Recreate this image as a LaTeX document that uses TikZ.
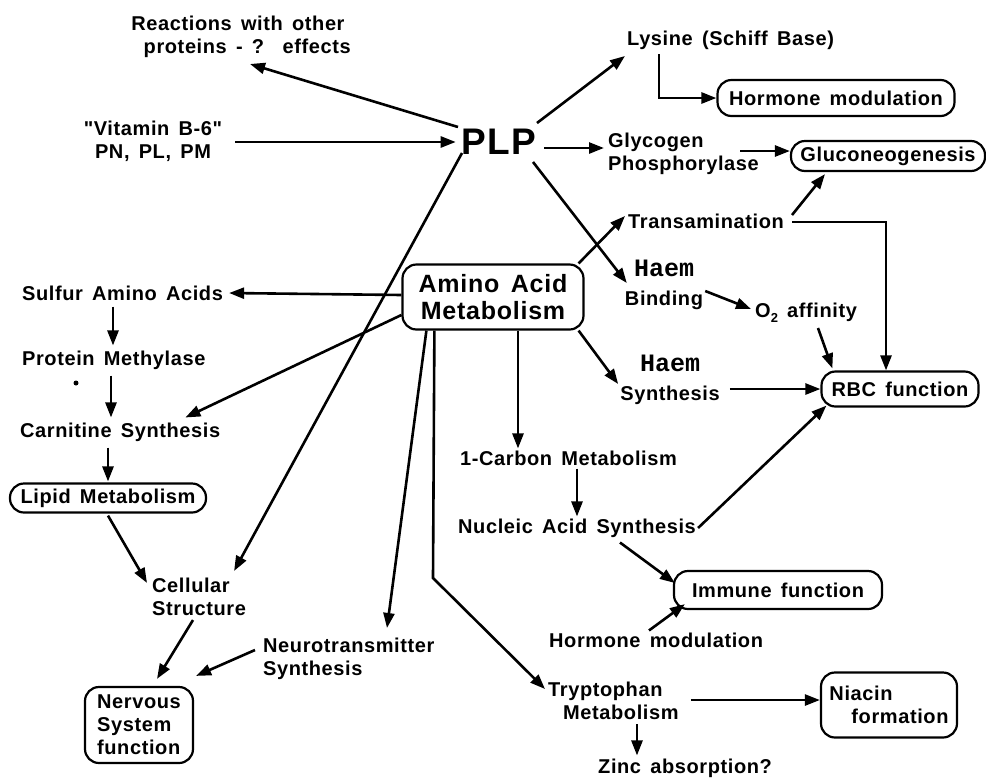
\documentclass[tikz,border=0pt]{standalone}
\usepackage{fontspec}
\usetikzlibrary{arrows.meta,calc}
\newfontfamily\lab{Liberation Sans}[LetterSpace=3,WordSpace=1.5]
\newfontfamily\haemf{Liberation Mono}
\tikzset{
  lbl/.style={font=\lab\bfseries\fontsize{20}{23}\selectfont, inner sep=0pt, align=center},
  lbll/.style={lbl, align=left},
  rbox/.style={lbl, draw, line width=2.2pt, rounded corners=14pt},
  arr/.style={line width=2.6pt, -{Triangle[length=15pt,width=11pt]}},
}
\newcommand{\haemword}{{\haemf\bfseries\fontsize{25}{25}\selectfont Haem}}
\begin{document}
\begin{tikzpicture}[x=1pt,y=-1pt]
\useasboundingbox (0,0) rectangle (986,780);
% nodes
\node[lbl] (react) at (238,37) {Reactions with other\\ \ \ proteins - ?\ \ effects};
\node[lbl] (vit) at (153,141) {"Vitamin B-6"\\PN, PL, PM};
\node[font=\lab\bfseries\fontsize{37}{37}\selectfont, inner sep=0pt] (plp) at (499,142) {PLP};
\node[lbl, anchor=west] (lys) at (627,40) {Lysine (Schiff Base)};
\node[rbox, minimum width=237pt, minimum height=36pt] (hm1) at (836,98) {Hormone modulation};
\node[lbll, anchor=west] (glyc) at (608,154) {Glycogen\\Phosphorylase};
\node[rbox, minimum width=194pt, minimum height=30pt] (gluco) at (888,156) {Gluconeogenesis};
\node[lbl, anchor=west] (trans) at (628,221) {Transamination};
\node[lbl] (haemb) at (664,285) {\haemword\\[6pt]Binding};
\node[lbl, anchor=west] (o2) at (755,313) {O\raisebox{-5pt}{\fontsize{13}{13}\selectfont 2} affinity};
\node[rbox, font=\lab\bfseries\fontsize{25}{27}\selectfont, minimum width=181pt, minimum height=65pt] (aam) at (493,297) {Amino Acid\\Metabolism};
\node[lbl] (haems) at (670,380) {\haemword\\[6pt]Synthesis};
\node[rbox, minimum width=157pt, minimum height=35pt] (rbc) at (900,389) {RBC function};
\node[lbl, anchor=west] (carb) at (460,458) {1-Carbon Metabolism};
\node[lbl, anchor=west] (nuc) at (458,528) {Nucleic Acid Synthesis};
\node[rbox, minimum width=208pt, minimum height=38pt] (imm) at (778,590) {Immune function};
\node[lbl, anchor=west] (hm2) at (549,640) {Hormone modulation};
\node[lbll, anchor=west] (tryp) at (548,701) {Tryptophan\\\hspace*{15pt}Metabolism};
\node[rbox, align=left, minimum width=136pt, minimum height=65pt] (niac) at (889,705) {Niacin\\\hspace*{22pt}formation};
\node[lbl, anchor=west] (zinc) at (598,768) {Zinc absorption?};
\node[lbll, anchor=west] (neuro) at (263,659) {Neurotransmitter\\Synthesis};
\node[rbox, align=left, minimum width=108pt, minimum height=76pt] (nerv) at (139,725) {Nervous\\System\\function};
\node[lbll, anchor=west] (cell) at (152,597) {Cellular\\Structure};
\node[rbox, minimum width=196pt, minimum height=29pt] (lipid) at (108,498) {Lipid Metabolism};
\node[lbl, anchor=west] (carn) at (20,432) {Carnitine Synthesis};
\node[lbl, anchor=west] (prot) at (22,360) {Protein Methylase};
\node[lbl, anchor=west] (sulf) at (22,293) {Sulfur Amino Acids};
\fill (76,383) circle (2.5pt);
% connectors
\draw[arr] ($(plp)+(-41,-15)$) -- ($(react)+(12,27)$);
\draw[arr] ($(vit.east)+(13,1)$) -- ($(plp.west)+(-6,0)$);
\draw[arr] ($(plp)+(38,-19)$) -- ($(lys.west)+(-2,16)$);
\draw[arr] ($(lys.west)+(32,14)$) |- (hm1.west);
\draw[arr] ($(plp.east)+(8,6)$) -- ($(glyc.west)+(-4,-6)$);
\draw[arr] ($(glyc.west)+(132,-3)$) -- ($(gluco.west)+(0,-5)$);
\draw[arr] ($(aam.north east)+(-6,0)$) -- ($(trans.west)+(-3,-5)$);
\draw[arr] ($(trans.east)+(8,-6)$) -- ($(gluco.south)+(-63,2)$);
\draw[arr] ($(trans.east)+(8,1)$) -| ($(rbc.north)+(-14,0)$);
\draw[arr] ($(plp)+(34,20)$) -- ($(haemb.west)+(2,-2)$);
\draw[arr] ($(haemb.east)+(2,6)$) -- ($(o2.west)+(-4,-4)$);
\draw[arr] ($(o2.west)+(63,15)$) -- ($(rbc.north west)+(12,-2)$);
\draw[arr] ($(aam.south east)+(-6,0)$) -- ($(haems.west)+(-2,4)$);
\coordinate (hs) at (haems.east |- rbc.west);
\draw[arr] ($(hs)+(10,0)$) -- (rbc.west);
\coordinate (c1) at ($(aam.south)+(25,0)$);
\draw[arr] (c1) -- ($(c1 |- carb.north)+(0,-2)$);
\coordinate (c2) at ($(carb.south west)+(117,3)$);
\draw[arr] (c2) -- ($(c2 |- nuc.north)+(0,-2)$);
\draw[arr] ($(nuc.east)+(2,0)$) -- ($(rbc.south west)+(6,-2)$);
\draw[arr] ($(nuc.south west)+(162,5)$) -- ($(imm.west)+(2,-7)$);
\draw[arr] ($(hm2.north west)+(100,-2)$) -- ($(imm.south west)+(12,-6)$);
\coordinate (t1) at (433,578);
\draw[arr] ($(aam.south west)+(33,0)$) -- (t1) -- ($(tryp.west)+(-3,-12)$);
\draw[arr] ($(tryp.east)+(12,-1)$) -- ($(niac.west)+(0,-5)$);
\draw[arr] ($(tryp.south west)+(89,4)$) -- ($(zinc.north west)+(39,-3)$);
\draw[arr] ($(aam.south west)+(25,0)$) -- ($(neuro.north west)+(124,-10)$);
\draw[arr] ($(neuro.west)+(-8,-9)$) -- ($(nerv.north east)+(2,-10)$);
\draw[arr] ($(plp)+(-37,11)$) -- ($(cell.north east)+(-12,-7)$);
\draw[arr] ($(lipid.south)+(0,2)$) -- ($(cell.north west)+(-5,5)$);
\draw[arr] ($(cell.south west)+(41,4)$) -- ($(nerv.north)+(18,-7)$);
\draw[arr] ($(aam.west)+(0,-2)$) -- ($(sulf.east)+(6,0)$);
\draw[arr] ($(sulf.south west)+(91,6)$) -- ($(prot.north west)+(91,-5)$);
\draw[arr] ($(prot.south west)+(89,6)$) -- ($(carn.north west)+(91,-5)$);
\draw[arr] ($(carn.south west)+(88,6)$) -- ($(lipid.north)+(0,-1)$);
\draw[arr] ($(aam.west)+(0,18)$) -- ($(carn.north east)+(-35,-5)$);
\end{tikzpicture}
\end{document}
